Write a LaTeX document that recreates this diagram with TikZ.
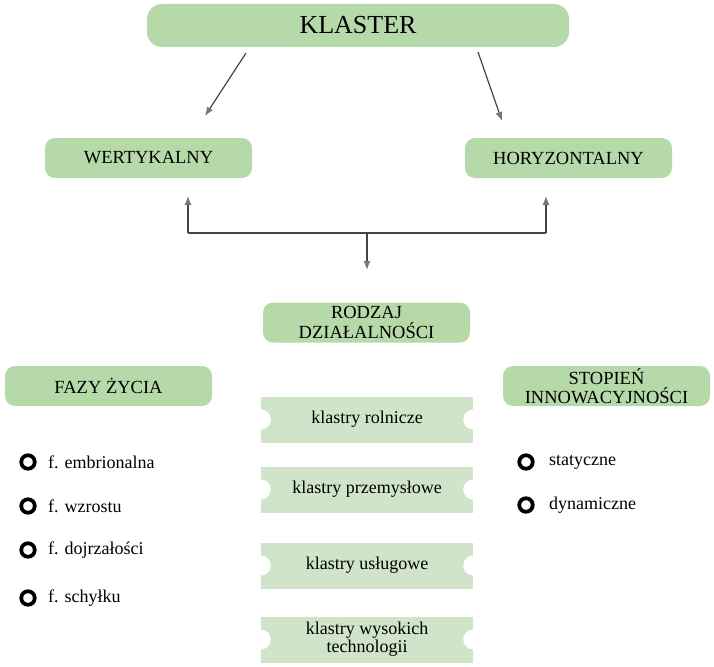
\documentclass[tikz,border=0pt]{standalone}
\usepackage{fontspec}
\setmainfont{Liberation Serif}
\usetikzlibrary{arrows.meta}
\definecolor{boxgreen}{HTML}{B5D9A8}
\definecolor{ticketgreen}{HTML}{CFE4C8}
\definecolor{linegray}{HTML}{444444}
\definecolor{tipgray}{HTML}{777777}
\tikzset{
  head/.style={fill=boxgreen, rounded corners=15pt, minimum width=422pt, minimum height=43pt, font=\fontsize{26}{28}\selectfont},
  category/.style={fill=boxgreen, rounded corners=10pt, minimum width=207pt, minimum height=40pt, inner sep=1pt, align=center, font=\fontsize{18.5}{19.5}\selectfont},
  ticket/.style={fill=ticketgreen, minimum width=212pt, minimum height=46pt, inner sep=1pt, align=center, font=\fontsize{18}{18}\selectfont},
  bullet/.style={circle, draw=black, line width=3.8pt, minimum size=13.5pt, inner sep=0pt},
  item/.style={anchor=west, font=\fontsize{18}{20}\selectfont},
  link/.style={draw=linegray, line width=1.2pt, -{Latex[length=9pt,width=7pt,color=tipgray]}},
}
\begin{document}
\begin{tikzpicture}[x=1pt,y=-1pt]
\useasboundingbox (0,0) rectangle (714,666);
% top level
\node[head] (klaster) at (358,25.5) {KLASTER};
\node[category] (wert) at (148.5,158) {WERTYKALNY};
\node[category] (hor) at (568.5,158) {HORYZONTALNY};
\coordinate (kl1) at (246,53);
\coordinate (kl2) at (478,52);
\coordinate (we) at (205,116);
\coordinate (ho) at (502,121);
\draw[link] (kl1) -- (we);
\draw[link] (kl2) -- (ho);
% joining line
\coordinate (jl) at (188,233);
\coordinate (jr) at (546,233);
\coordinate (jm) at (367,233);
\coordinate (wu) at (188,196);
\coordinate (hu) at (546,196);
\coordinate (rd) at (367,270);
\draw[draw=linegray, line width=1.2pt] (jl) -- (jr);
\draw[link] (jl) -- (wu);
\draw[link] (jr) -- (hu);
\draw[link] (jm) -- (rd);
% second level
\node[category] (rodzaj) at (366.5,322.5) {RODZAJ\\DZIAŁALNOŚCI};
\node[category] (fazy) at (108.5,386) {FAZY ŻYCIA};
\node[category] (stopien) at (606.5,386) {STOPIEŃ\\INNOWACYJNOŚCI};
% tickets
\foreach \y/\name/\txt in {419.5/t1/klastry rolnicze, 489.5/t2/klastry przemysłowe, 565.5/t3/klastry usługowe, 639.5/t4/{klastry wysokich\\technologii}} {
  \node[ticket] (\name) at (367,\y) {\txt};
  \fill[white] (\name.west) circle (10pt);
  \fill[white] (\name.east) circle (10pt);
}
% phases
\foreach \y/\name/\txt in {462/f1/f. embrionalna, 506/f2/f. wzrostu, 550/f3/f. dojrzałości, 598/f4/f. schyłku} {
  \node[bullet] (\name) at (28,\y) {};
  \node[item] at (44.5,\y) {\txt};
}
\foreach \y/\name/\txt in {462/s1/statyczne, 505/s2/dynamiczne} {
  \node[bullet] (\name) at (526,\y) {};
  \node[item] at (545.5,\y) {\txt};
}
\end{tikzpicture}
\end{document}
